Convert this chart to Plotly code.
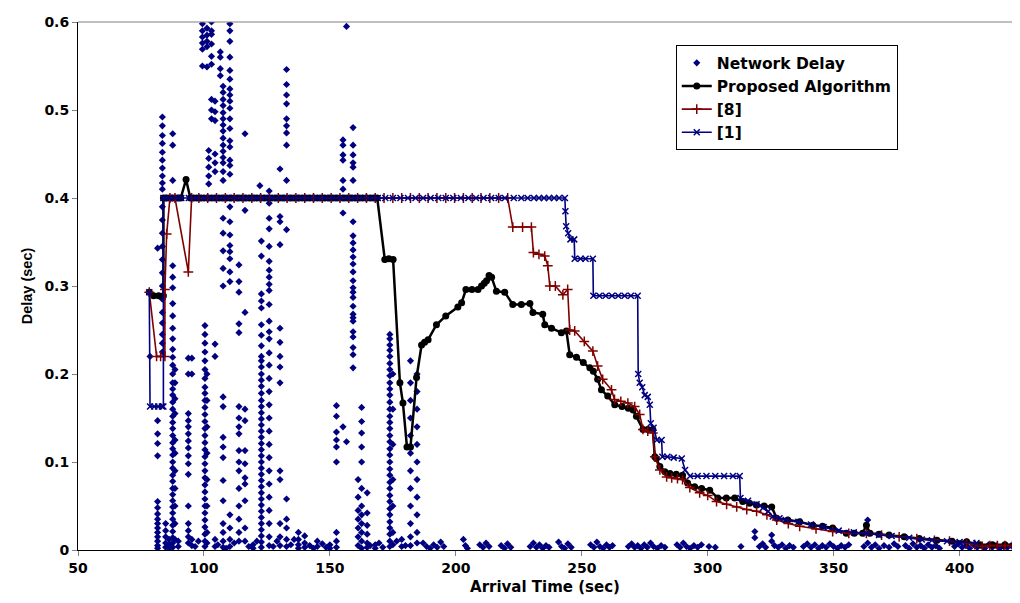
import plotly.graph_objects as go

# ---------------- data ----------------
PLATEAU = 0.4

# Network Delay scatter: columns of (arrival time, [delays])
nd_columns = [
    (78.6, [0.22]),
    (81.6, [0.343, 0.147, 0.132, 0.121, 0.107, 0.055, 0.048, 0.041, 0.035, 0.03, 0.025, 0.02, 0.015, 0.01, 0.005, 0.002]),
    (83.5, [0.492, 0.482, 0.471, 0.462, 0.452, 0.443, 0.434, 0.425, 0.417, 0.41, 0.39, 0.375, 0.36, 0.345, 0.33, 0.315, 0.30, 0.285, 0.27, 0.258, 0.245, 0.235, 0.225]),
    (84.8, [0.03, 0.022, 0.015, 0.008, 0.003]),
    (86.2, [0.012, 0.006, 0.002]),
    (87.6, [0.473, 0.46, 0.42, 0.323, 0.31, 0.298, 0.28, 0.266, 0.252, 0.24, 0.228, 0.219, 0.21, 0.2, 0.19, 0.183, 0.176, 0.168, 0.16, 0.152, 0.145, 0.138, 0.13, 0.122, 0.115, 0.108, 0.1, 0.093, 0.085, 0.078, 0.07, 0.063, 0.056, 0.049, 0.042, 0.035, 0.028, 0.021, 0.014, 0.008, 0.003]),
    (88.5, [0.205, 0.19, 0.172, 0.155, 0.125, 0.11, 0.09, 0.07, 0.05, 0.03, 0.012]),
    (89.8, [0.01, 0.004]),
    (93.8, [0.218, 0.2, 0.155, 0.147, 0.14, 0.132, 0.124, 0.116, 0.107, 0.098, 0.086, 0.05, 0.03, 0.022, 0.015, 0.008]),
    (95.2, [0.218, 0.2, 0.012, 0.005]),
    (99.4, [0.598, 0.59, 0.583, 0.576, 0.569, 0.55]),
    (100.4, [0.255, 0.245, 0.235, 0.225, 0.215, 0.205, 0.195, 0.185, 0.178, 0.17, 0.162, 0.154, 0.146, 0.138, 0.13, 0.122, 0.114, 0.106, 0.098, 0.09, 0.082, 0.074, 0.066, 0.058, 0.05, 0.042, 0.034, 0.026, 0.018, 0.01, 0.004]),
    (101.2, [0.593, 0.585, 0.578, 0.572, 0.549, 0.2, 0.17, 0.14, 0.11, 0.08, 0.05, 0.02, 0.008]),
    (101.9, [0.454, 0.445, 0.435, 0.425, 0.416]),
    (103.0, [0.6, 0.59, 0.586, 0.575, 0.561, 0.552, 0.512, 0.5, 0.49]),
    (104.4, [0.51, 0.498, 0.488, 0.45, 0.44, 0.43, 0.234, 0.22, 0.012, 0.004]),
    (106.5, [0.566, 0.56, 0.547, 0.539]),
    (107.6, [0.527, 0.52, 0.512, 0.505, 0.497, 0.49, 0.483, 0.476, 0.468, 0.46, 0.453, 0.446, 0.44, 0.43, 0.42, 0.377, 0.36, 0.34, 0.32, 0.3, 0.174, 0.163, 0.128, 0.117, 0.105, 0.079, 0.056, 0.03, 0.02, 0.01, 0.003]),
    (110.3, [0.598, 0.59, 0.578, 0.56, 0.545, 0.535, 0.524, 0.517, 0.51, 0.502, 0.49, 0.479, 0.465, 0.458, 0.443, 0.437, 0.427, 0.39, 0.373, 0.358, 0.346, 0.339, 0.331, 0.316, 0.305, 0.04, 0.025, 0.012, 0.004]),
    (113.9, [0.324, 0.305, 0.293, 0.257, 0.247, 0.163, 0.15, 0.14, 0.132, 0.113, 0.1, 0.09, 0.07, 0.05, 0.035, 0.02, 0.01]),
    (116.3, [0.473, 0.386, 0.27, 0.16, 0.147, 0.113, 0.098, 0.082, 0.075, 0.056, 0.025, 0.01]),
    (119.5, [0.006, 0.002]),
    (122.2, [0.414]),
    (122.8, [0.351, 0.334, 0.291, 0.283, 0.275, 0.256, 0.244, 0.232, 0.22, 0.215, 0.208, 0.2, 0.193, 0.186, 0.178, 0.17, 0.163, 0.156, 0.149, 0.142, 0.135, 0.128, 0.121, 0.114, 0.107, 0.1, 0.093, 0.086, 0.079, 0.072, 0.065, 0.058, 0.051, 0.044, 0.037, 0.03, 0.023, 0.016, 0.009, 0.003]),
    (125.9, [0.408, 0.394, 0.377, 0.365, 0.345, 0.328, 0.318, 0.31, 0.302, 0.295, 0.279, 0.26, 0.248, 0.24, 0.224, 0.21, 0.195, 0.18, 0.165, 0.15, 0.135, 0.12, 0.105, 0.09, 0.075, 0.06, 0.045, 0.03, 0.015, 0.005]),
    (130.2, [0.433, 0.379, 0.373, 0.347, 0.252, 0.236, 0.22, 0.208, 0.19, 0.09, 0.08, 0.03, 0.015, 0.005]),
    (132.8, [0.546, 0.529, 0.517, 0.507, 0.49, 0.482, 0.474, 0.46, 0.42, 0.364, 0.058, 0.035, 0.025, 0.012, 0.004]),
    (137.5, [0.02, 0.012, 0.006, 0.002]),
    (140.0, [0.016, 0.008, 0.003]),
    (145.0, [0.01, 0.004]),
    (150.0, [0.006, 0.002]),
    (152.6, [0.164, 0.152, 0.134, 0.125, 0.117, 0.1, 0.02, 0.01, 0.003]),
    (155.2, [0.466, 0.46, 0.449, 0.443, 0.42, 0.41, 0.383, 0.14]),
    (156.6, [0.595, 0.123]),
    (159.2, [0.48, 0.46, 0.449, 0.44, 0.435, 0.42, 0.373, 0.357, 0.349, 0.341, 0.333, 0.325, 0.316, 0.306, 0.298, 0.293, 0.287, 0.277, 0.268, 0.264, 0.26, 0.248, 0.242, 0.23, 0.222, 0.207]),
    (161.2, [0.08, 0.06, 0.045, 0.035, 0.025, 0.015, 0.005]),
    (162.6, [0.162, 0.146, 0.133, 0.117, 0.1, 0.07, 0.05, 0.04, 0.03, 0.02, 0.01, 0.002]),
    (164.8, [0.065, 0.042, 0.028, 0.018, 0.008, 0.003]),
    (168.0, [0.006, 0.002]),
    (173.8, [0.245, 0.24, 0.233, 0.227, 0.22, 0.212, 0.205, 0.198, 0.19, 0.183, 0.176, 0.168, 0.16, 0.152, 0.145, 0.138, 0.13, 0.123, 0.115, 0.108, 0.1, 0.092, 0.085, 0.077, 0.07, 0.062, 0.055, 0.047, 0.04, 0.032, 0.025, 0.018, 0.01, 0.004]),
    (175.0, [0.2, 0.16, 0.12, 0.08, 0.05, 0.02, 0.006]),
    (178.5, [0.012, 0.004]),
    (182.0, [0.215, 0.19, 0.17, 0.15, 0.13, 0.11, 0.09, 0.07, 0.05, 0.03, 0.015, 0.005]),
    (184.6, [0.2, 0.18, 0.16, 0.14, 0.12, 0.1, 0.08, 0.06, 0.04, 0.02, 0.008]),
]

# Network Delay: low points along the bottom of the chart
nd_low = [
    (96.5, 0.004), (97.8, 0.01), (105.5, 0.006), (108.8, 0.002), (112.0, 0.008), (117.8, 0.004),
    (121.0, 0.01), (127.5, 0.004), (129.0, 0.01), (134.5, 0.006), (135.8, 0.012), (142.0, 0.005),
    (143.5, 0.002), (147.0, 0.007), (148.5, 0.003), (166.0, 0.005), (169.5, 0.008), (171.0, 0.003),
    (176.5, 0.01), (180.0, 0.005),
    (187.0, 0.008), (188.4, 0.004), (189.8, 0.002), (191.2, 0.006), (192.6, 0.003), (194.0, 0.009), (195.2, 0.004),
    (203.0, 0.012), (203.8, 0.005), (204.6, 0.002),
    (209.5, 0.006), (210.8, 0.003), (212.0, 0.008), (213.2, 0.004),
    (218.0, 0.005), (219.3, 0.002), (220.5, 0.007), (221.8, 0.003),
    (229.5, 0.004), (230.8, 0.008), (232.0, 0.003), (233.2, 0.006), (234.5, 0.002), (235.8, 0.005), (237.0, 0.003),
    (240.8, 0.009), (242.0, 0.004), (243.2, 0.002), (244.5, 0.007), (245.8, 0.003),
    (253.5, 0.006), (254.8, 0.003), (256.0, 0.009), (257.2, 0.004), (258.5, 0.002), (259.8, 0.006), (261.0, 0.003), (262.2, 0.005),
    (268.5, 0.004), (269.8, 0.007), (271.0, 0.003), (272.2, 0.005), (273.5, 0.002), (274.8, 0.006), (276.0, 0.003),
    (277.3, 0.008), (278.5, 0.004), (280.0, 0.002), (281.5, 0.005), (283.0, 0.003),
    (287.8, 0.006), (289.0, 0.003), (290.3, 0.008), (291.6, 0.004), (293.0, 0.002), (294.5, 0.005), (296.0, 0.003), (297.5, 0.006),
    (300.5, 0.004), (303.0, 0.003), (313.2, 0.004),
    (318.7, 0.021), (318.7, 0.014), (320.5, 0.004), (321.8, 0.007), (323.0, 0.003), (325.4, 0.017), (325.4, 0.01),
    (326.5, 0.005), (328.0, 0.003), (329.5, 0.006), (331.0, 0.002), (332.5, 0.005), (334.0, 0.003),
    (338.0, 0.004), (339.5, 0.007), (341.0, 0.003), (342.5, 0.006), (344.0, 0.002), (345.5, 0.005), (347.0, 0.003),
    (348.5, 0.007), (350.0, 0.004), (351.5, 0.002), (353.0, 0.005), (354.5, 0.003), (356.0, 0.006),
    (362.0, 0.004), (363.5, 0.034), (363.5, 0.008), (365.0, 0.003), (366.5, 0.006), (368.0, 0.002), (370.0, 0.005),
    (372.0, 0.003), (374.0, 0.007), (375.5, 0.004),
    (378.5, 0.005), (380.0, 0.002), (381.5, 0.007), (383.0, 0.003), (384.5, 0.005), (386.0, 0.002), (387.5, 0.006),
    (389.0, 0.003), (390.5, 0.005), (392.0, 0.002),
    (398.0, 0.004), (399.5, 0.007), (401.0, 0.003), (402.5, 0.005), (404.0, 0.002), (405.5, 0.006), (407.0, 0.003),
    (408.5, 0.005), (410.0, 0.002), (411.5, 0.006), (413.0, 0.003), (414.5, 0.005), (416.0, 0.002), (417.5, 0.004),
    (419.0, 0.003), (420.5, 0.005), (422.0, 0.002), (423.5, 0.004),
]

# Proposed Algorithm (black)
pa_head = [(78.3, 0.293), (80.0, 0.289), (82.0, 0.289), (83.9, 0.289)]
pa_plateau1_x = [83.9, 85.0, 86.2, 87.4, 88.6, 89.8, 90.8]
pa_peak = [(92.9, 0.421)]
pa_plateau2_x = [94.6, 95.8, 97.2, 98.6, 100.0, 101.5, 103.0, 104.5, 106.0, 107.5, 109.0, 110.5, 112.0,
                 113.5, 115.0, 116.5, 118.0, 119.5, 121.0, 122.5, 124.0, 125.5, 127.0, 128.5, 130.0, 131.5,
                 133.0, 134.5, 136.0, 137.5, 139.0, 140.5, 142.0, 143.5, 145.0, 146.5, 148.0, 149.5, 151.0,
                 152.5, 154.0, 155.5, 157.0, 158.5, 160.0, 161.5, 163.0, 164.5, 166.0, 167.5, 168.8]
pa_tail = [
    (171.8, 0.33), (173.4, 0.331), (175.1, 0.33), (177.8, 0.19), (179.0, 0.167), (180.6, 0.117), (182.0, 0.117),
    (184.4, 0.196), (186.4, 0.233), (187.6, 0.236), (189.0, 0.239), (192.3, 0.256), (196.0, 0.266), (200.8, 0.276),
    (202.3, 0.281), (204.0, 0.296), (206.4, 0.296), (208.8, 0.296), (210.2, 0.300), (211.3, 0.303), (212.2, 0.306),
    (213.2, 0.312), (214.2, 0.31), (216.1, 0.294), (219.4, 0.293), (222.6, 0.279), (226.0, 0.279), (229.4, 0.280),
    (230.6, 0.27), (234.5, 0.268), (235.3, 0.256), (238.0, 0.252), (241.9, 0.247), (243.9, 0.249), (245.2, 0.222),
    (247.9, 0.219), (250.6, 0.213), (253.2, 0.207), (254.6, 0.203), (256.3, 0.194), (257.8, 0.182), (260.3, 0.175),
    (263.1, 0.165), (266.0, 0.163), (268.5, 0.161), (270.4, 0.159), (271.7, 0.152), (274.3, 0.137), (276.2, 0.137),
    (278.2, 0.137), (279.0, 0.106), (279.6, 0.104), (281.0, 0.095), (283.0, 0.089), (285.0, 0.087), (287.5, 0.086),
    (290.0, 0.085), (292.0, 0.076), (294.8, 0.072), (297.6, 0.070), (300.8, 0.068), (304.0, 0.059), (307.4, 0.059),
    (310.7, 0.059), (313.9, 0.055), (316.6, 0.053), (319.4, 0.051), (322.4, 0.050), (325.4, 0.049), (327.4, 0.036),
    (331.8, 0.034), (336.5, 0.032), (341.7, 0.028), (345.6, 0.027), (349.6, 0.025), (355.0, 0.019), (358.2, 0.019),
    (361.5, 0.019), (363.0, 0.028), (364.4, 0.019), (368.0, 0.018), (372.0, 0.017), (378.0, 0.015), (384.0, 0.013),
    (391.0, 0.011), (397.0, 0.010), (402.8, 0.0095), (408.0, 0.006), (413.0, 0.006), (418.0, 0.006), (423.0, 0.006),
]

# [8] (dark red)
r8_head = [(78.3, 0.293), (81.2, 0.22), (82.8, 0.22), (84.5, 0.22), (84.5, 0.296), (85.2, 0.359),
           (86.5, 0.4), (88.5, 0.4), (93.8, 0.316), (95.1, 0.4)]
r8_plateau_x = [98.0, 101.5, 105.0, 108.5, 112.0, 115.5, 119.0, 122.5, 126.0, 129.5, 133.0, 136.5, 140.0,
                143.5, 147.0, 150.5, 154.0, 157.5, 161.0, 164.5, 168.0, 171.5, 175.0, 178.5, 182.0, 185.5,
                189.0, 192.5, 196.0, 199.5, 203.0, 206.5, 210.0, 213.5, 217.0, 220.6]
r8_tail = [
    (222.6, 0.367), (226.5, 0.367), (230.0, 0.367), (230.8, 0.338), (233.0, 0.336), (235.3, 0.334), (236.5, 0.323),
    (237.3, 0.300), (239.5, 0.300), (242.5, 0.29), (244.4, 0.296), (245.2, 0.25), (247.2, 0.249), (251.0, 0.237),
    (254.4, 0.226), (256.3, 0.209), (258.3, 0.194), (261.8, 0.182), (263.0, 0.171), (265.5, 0.169), (268.3, 0.167),
    (271.0, 0.163), (273.0, 0.154), (274.3, 0.137), (276.2, 0.135), (278.2, 0.133), (279.0, 0.106), (281.0, 0.091),
    (283.7, 0.083), (285.7, 0.082), (288.0, 0.081), (290.0, 0.080), (292.9, 0.071), (296.8, 0.065), (300.0, 0.062),
    (303.5, 0.055), (307.5, 0.052), (311.5, 0.049), (315.5, 0.046), (319.4, 0.044), (323.5, 0.040), (327.4, 0.034),
    (332.0, 0.030), (336.5, 0.027), (343.0, 0.024), (349.6, 0.021), (356.0, 0.019), (363.0, 0.019), (369.0, 0.017),
    (376.0, 0.015), (383.0, 0.013), (390.0, 0.011), (396.0, 0.010), (402.8, 0.008), (406.0, 0.006), (409.0, 0.004),
    (412.0, 0.005), (415.0, 0.005), (418.0, 0.005), (421.0, 0.005), (424.0, 0.006),
]

# [1] (blue)
r1_head = [(78.3, 0.293), (78.6, 0.163), (80.3, 0.163), (81.8, 0.163), (83.3, 0.163), (83.9, 0.163)]
r1_plateau_x = [83.9, 86.0, 88.5, 91.0, 94.0, 97.0, 100.0, 103.0, 106.0, 109.0, 112.0, 115.0, 118.0, 121.0,
                124.0, 127.0, 130.0, 133.0, 136.0, 139.0, 142.0, 145.0, 148.0, 151.0, 154.0, 157.0, 160.0,
                163.0, 166.0, 169.0, 172.0, 175.0, 178.0, 181.0, 184.0, 187.0, 190.0, 193.0, 196.0, 199.0,
                202.0, 205.0, 208.0, 211.0, 214.0, 217.0, 219.5, 223.0, 226.0, 228.5, 231.0, 233.0, 235.0,
                237.0, 239.0, 241.0, 243.3]
r1_tail = [
    (243.5, 0.385), (243.8, 0.368), (244.6, 0.36), (245.5, 0.353), (247.0, 0.353), (247.2, 0.331), (249.5, 0.331),
    (251.5, 0.331), (254.4, 0.331), (254.6, 0.289), (257.0, 0.289), (259.5, 0.289), (262.0, 0.289), (264.5, 0.289),
    (267.0, 0.289), (269.5, 0.289), (272.2, 0.289), (272.4, 0.2), (273.0, 0.19), (274.0, 0.185), (275.0, 0.176),
    (276.2, 0.174), (277.0, 0.165), (277.4, 0.144), (278.5, 0.139), (279.8, 0.125), (281.7, 0.125), (282.0, 0.106),
    (284.0, 0.106), (286.5, 0.105), (289.7, 0.104), (291.0, 0.091), (293.0, 0.084), (296.0, 0.084), (299.5, 0.084),
    (303.0, 0.084), (306.5, 0.084), (310.0, 0.084), (312.7, 0.084), (313.0, 0.059), (316.0, 0.056), (319.4, 0.052),
    (322.0, 0.048), (324.0, 0.044), (325.8, 0.038), (328.5, 0.036), (331.0, 0.034), (336.0, 0.032), (341.0, 0.029),
    (346.0, 0.026), (352.0, 0.022), (358.0, 0.020), (363.0, 0.019), (368.0, 0.017), (373.0, 0.016), (380.0, 0.014),
    (385.0, 0.012), (389.0, 0.011), (395.0, 0.010), (400.0, 0.009), (406.7, 0.008),
]

x_ticks = [50, 100, 150, 200, 250, 300, 350, 400]
y_ticks = [0, 0.1, 0.2, 0.3, 0.4, 0.5, 0.6]

# ---------------- assemble series ----------------
nd_x, nd_y = [], []
for cx, ys in nd_columns:
    for yv in ys:
        nd_x.append(cx)
        nd_y.append(yv)
for px, py in nd_low:
    nd_x.append(px)
    nd_y.append(py)

pa_pts = pa_head + [(v, PLATEAU) for v in pa_plateau1_x] + pa_peak + [(v, PLATEAU) for v in pa_plateau2_x] + pa_tail
r8_pts = r8_head + [(v, PLATEAU) for v in r8_plateau_x] + r8_tail
r1_pts = r1_head + [(v, PLATEAU) for v in r1_plateau_x] + r1_tail

NAVY = "#000080"
MAROON = "#800000"
BOLD = dict(family="DejaVu Sans", size=14, color="black", weight="bold")

fig = go.Figure()
fig.add_trace(go.Scatter(x=nd_x, y=nd_y, mode="markers", name="Network Delay",
                         marker=dict(symbol="diamond", size=5.5, color=NAVY, line=dict(width=0))))
fig.add_trace(go.Scatter(x=[p[0] for p in pa_pts], y=[p[1] for p in pa_pts], mode="lines+markers",
                         name="Proposed Algorithm", line=dict(color="black", width=2.5),
                         marker=dict(symbol="circle", size=7, color="black")))
fig.add_trace(go.Scatter(x=[p[0] for p in r8_pts], y=[p[1] for p in r8_pts], mode="lines+markers",
                         name="[8]", line=dict(color=MAROON, width=1.6),
                         marker=dict(symbol="cross-thin", size=7, color=MAROON, line=dict(color=MAROON, width=1.5))))
fig.add_trace(go.Scatter(x=[p[0] for p in r1_pts], y=[p[1] for p in r1_pts], mode="lines+markers",
                         name="[1]", line=dict(color=NAVY, width=1.6),
                         marker=dict(symbol="x-thin", size=6, color=NAVY, line=dict(color=NAVY, width=1.5))))

fig.add_shape(type="line", xref="paper", yref="paper", x0=0, x1=1, y0=1, y1=1,
              line=dict(color="#808080", width=1))

# the page adds an 8 px body margin; figure is sized so the plot lands at 78..1012 x 22..550
fig.update_layout(
    width=1004, height=595,
    margin=dict(l=70, r=0, t=14, b=53, autoexpand=False),
    paper_bgcolor="white", plot_bgcolor="white",
    showlegend=True,
    legend=dict(x=0.64, y=0.956, xanchor="left", yanchor="top",
                bgcolor="white", bordercolor="black", borderwidth=1,
                font=dict(family="DejaVu Sans", size=15.5, color="black", weight="bold"),
                itemwidth=30, tracegroupgap=0),
    xaxis=dict(range=[50, 420.8], tickvals=x_ticks, ticktext=[str(v) for v in x_ticks],
               showgrid=False, zeroline=False, showline=True, linecolor="black", linewidth=1,
               ticks="outside", ticklen=5, tickcolor="#808080", tickfont=BOLD, automargin=False,
               title=dict(text="Arrival Time (sec)", standoff=6,
                          font=dict(family="DejaVu Sans", size=15, color="black", weight="bold"))),
    yaxis=dict(range=[0, 0.6], tickvals=y_ticks, ticktext=["0", "0.1", "0.2", "0.3", "0.4", "0.5", "0.6"],
               showgrid=False, zeroline=False, showline=True, linecolor="black", linewidth=1,
               ticks="outside", ticklen=5, tickcolor="#808080", tickfont=BOLD, automargin=False,
               title=dict(text="Delay (sec)", standoff=8,
                          font=dict(family="Arial", size=14.5, color="black", weight="bold"))),
)

fig.write_html("out.html")
